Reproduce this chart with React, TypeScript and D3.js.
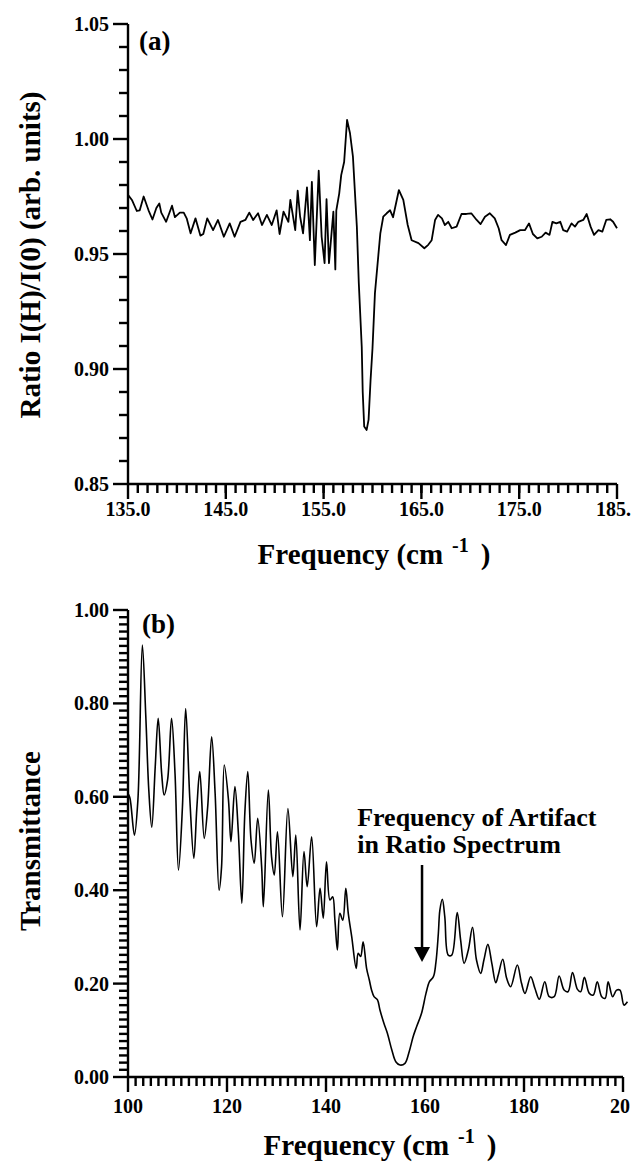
import React from "react";
import * as d3 from "d3";

// ---------- Panel (a): ratio spectrum ----------
const freqA = [
  135.0, 135.4, 135.9, 136.2, 136.6, 137.1, 137.5, 137.9, 138.2, 138.4, 138.9, 139.5, 139.8, 140.3, 140.7,
  141.0, 141.4, 141.9, 142.4, 142.7, 143.1, 143.7, 144.2, 144.8, 145.4, 145.9, 146.5, 147.0, 147.4, 147.8,
  148.3, 148.7, 149.2, 149.7, 150.2, 150.5, 150.9, 151.4, 151.6, 152.1, 152.35, 152.6, 152.9, 153.3, 153.6,
  153.8, 154.1, 154.5, 154.8, 155.1, 155.3, 155.55, 156.0, 156.2, 156.3, 156.6, 156.8, 157.1, 157.4, 157.7,
  158.0, 158.4, 158.6, 158.9, 159.0, 159.15, 159.4, 159.6, 159.8, 160.0, 160.25, 160.8, 161.1, 161.45, 161.8,
  162.1, 162.7, 163.15, 163.6, 164.0, 164.7, 165.3, 165.7, 166.05, 166.4, 166.7, 167.1, 167.4, 167.75, 168.1,
  168.6, 169.1, 169.6, 170.1, 170.65, 171.05, 171.5, 172.0, 172.5, 172.9, 173.2, 173.65, 174.05, 174.6, 175.1,
  175.6, 176.0, 176.4, 176.85, 177.3, 177.7, 178.1, 178.4, 178.8, 179.2, 179.5, 179.9, 180.35, 180.7, 181.05,
  181.55, 181.9, 182.3, 182.65, 183.1, 183.5, 183.9, 184.3, 184.6, 185.0,
];
const ratioA = [
  0.9757, 0.9735, 0.9687, 0.969, 0.975, 0.969, 0.965, 0.97, 0.972, 0.968, 0.964, 0.971, 0.966, 0.968, 0.968,
  0.9655, 0.959, 0.9655, 0.958, 0.9587, 0.9655, 0.9604, 0.9648, 0.9575, 0.9633, 0.9575, 0.964, 0.9648, 0.968, 0.9648,
  0.9677, 0.9626, 0.967, 0.9626, 0.969, 0.9587, 0.9684, 0.964, 0.9735, 0.9604, 0.9775, 0.9662, 0.959, 0.979, 0.956,
  0.9814, 0.9452, 0.9862, 0.9575, 0.946, 0.9738, 0.946, 0.9684, 0.9433, 0.969, 0.9764, 0.9843, 0.99, 1.0083, 1.0025,
  0.9923, 0.9619, 0.9373, 0.9097, 0.89, 0.875, 0.8735, 0.878, 0.895, 0.909, 0.933, 0.959, 0.9662, 0.9677, 0.969,
  0.966, 0.9778, 0.9735, 0.9626, 0.956, 0.9547, 0.9525, 0.954, 0.956, 0.9648, 0.967, 0.9655, 0.9626, 0.964, 0.9612,
  0.9619, 0.9674, 0.9674, 0.9677, 0.9648, 0.963, 0.9662, 0.9677, 0.9655, 0.9612, 0.956, 0.9539, 0.9583, 0.9593, 0.9604,
  0.9604, 0.9633, 0.9587, 0.9568, 0.9575, 0.9593, 0.9583, 0.964, 0.9633, 0.964, 0.9604, 0.9597, 0.9633, 0.9619, 0.964,
  0.9648, 0.9674, 0.9619, 0.9583, 0.9604, 0.9597, 0.9648, 0.9651, 0.964, 0.9612,
];
const yTicksA = [0.85, 0.9, 0.95, 1.0, 1.05];
const yLabelsA = ["0.85", "0.90", "0.95", "1.00", "1.05"];
const xTicksA = [135, 145, 155, 165, 175, 185];
const xLabelsA = ["135.0", "145.0", "155.0", "165.0", "175.0", "185."];

// ---------- Panel (b): transmittance ----------
const freqB = [
  100.0, 100.4, 101.3, 102.0, 102.9, 103.6, 104.2, 104.8, 105.5, 106.1, 106.8, 107.3, 108.0, 108.8, 109.5,
  110.2, 111.0, 111.65, 112.5, 113.3, 113.9, 114.5, 115.4, 116.1, 116.9, 117.6, 118.4, 118.9, 119.45, 120.3,
  120.8, 121.6, 122.3, 123.0, 123.6, 124.2, 124.85, 125.5, 126.2, 127.0, 127.35, 128.35, 129.0, 129.55, 130.2,
  131.2, 132.3, 133.3, 133.9, 134.75, 135.55, 136.2, 137.1, 138.1, 138.8, 139.45, 140.1, 140.8, 141.35, 141.8,
  142.3, 142.8, 143.4, 144.0, 144.5, 145.2, 146.1, 146.5, 147.0, 147.5, 148.2, 148.75, 149.2, 149.7, 150.4,
  150.9, 151.7, 152.4, 153.3, 154.1, 154.95, 155.95, 156.8, 157.6, 158.3, 159.3, 160.2, 160.9, 161.7, 162.2,
  162.7, 163.0, 163.5, 164.0, 164.7, 165.4, 166.5, 167.2, 167.9, 168.75, 169.6, 170.4, 171.25, 171.9, 172.7,
  173.5, 174.3, 174.8, 175.7, 176.5, 177.3, 178.65, 179.5, 180.2, 181.35, 182.2, 183.1, 184.2, 185.1, 186.1,
  187.1, 188.1, 188.9, 189.8, 190.8, 191.45, 192.2, 193.2, 194.0, 194.8, 195.7, 196.4, 197.0, 197.9, 198.7,
  199.4, 200.2, 200.9,
];
const transB = [
  0.6075, 0.597, 0.518, 0.593, 0.925, 0.7715, 0.6146, 0.535, 0.6645, 0.768, 0.65, 0.6039, 0.636, 0.768, 0.65,
  0.443, 0.5788, 0.789, 0.593, 0.4683, 0.575, 0.654, 0.511, 0.5788, 0.7287, 0.6075, 0.4, 0.45, 0.668, 0.593,
  0.504, 0.6217, 0.522, 0.372, 0.5647, 0.654, 0.5075, 0.4576, 0.554, 0.45, 0.3647, 0.6146, 0.4718, 0.4326, 0.525,
  0.343, 0.575, 0.429, 0.518, 0.3148, 0.4825, 0.4076, 0.5146, 0.322, 0.404, 0.3398, 0.461, 0.379, 0.386, 0.336,
  0.272, 0.3505, 0.336, 0.404, 0.3505, 0.3, 0.2327, 0.265, 0.258, 0.2897, 0.2327, 0.2077, 0.1863, 0.172, 0.165,
  0.1435, 0.115, 0.0935, 0.0578, 0.0328, 0.0257, 0.0293, 0.0542, 0.0863, 0.1077, 0.1364, 0.179, 0.204, 0.2148, 0.245,
  0.3077, 0.357, 0.3805, 0.343, 0.261, 0.261, 0.352, 0.293, 0.2434, 0.272, 0.3206, 0.2505, 0.222, 0.2505, 0.284,
  0.2434, 0.202, 0.2184, 0.252, 0.2113, 0.1934, 0.2398, 0.2006, 0.179, 0.2148, 0.19, 0.1664, 0.204, 0.172, 0.172,
  0.2163, 0.1863, 0.1827, 0.2234, 0.1877, 0.1827, 0.2134, 0.179, 0.1756, 0.204, 0.172, 0.1685, 0.204, 0.172, 0.186,
  0.186, 0.154, 0.161,
];
const yTicksB = [0, 0.2, 0.4, 0.6, 0.8, 1.0];
const yLabelsB = ["0.00", "0.20", "0.40", "0.60", "0.80", "1.00"];
const xTicksB = [100, 120, 140, 160, 180, 200];
const xLabelsB = ["100", "120", "140", "160", "180", "20"];

// annotation (frequency of artifact) in data units of panel (b)
const artifactFreq = 159.4;
const artifactFrom = 0.454;
const artifactTo = 0.246;
const noteLines = ["Frequency of Artifact", "in Ratio Spectrum"];
const noteFreq = 146.3;
const noteValue = 0.538;

const FONT = "'Liberation Serif', 'Times New Roman', Times, serif";

const xA = d3.scaleLinear().domain([135, 185]).range([128, 617]);
const yA = d3.scaleLinear().domain([0.85, 1.05]).range([484, 24]);
const xB = d3.scaleLinear().domain([100, 200]).range([128, 623]);
const yB = d3.scaleLinear().domain([0, 1]).range([1077, 610]);

// minor tick values (between majors), built with d3.range over each major interval
const minorXA = d3.range(136, 185, 1);
const minorYA = d3.range(0.86, 1.05, 0.01).filter((v) => Math.abs(v * 20 - Math.round(v * 20)) > 1e-6);
const minorXB = xTicksB.slice(0, -1).flatMap((a) => d3.range(1, 13).map((k) => a + (20 * k) / 13));
const minorYB = yTicksB.slice(0, -1).flatMap((a) => d3.range(1, 13).map((k) => a + (0.2 * k) / 13));

export default function App() {
  const lineA = d3.line<number>().x((_, i) => xA(freqA[i])).y((d) => yA(d)).curve(d3.curveLinear);
  const lineB = d3.line<number>().x((_, i) => xB(freqB[i])).y((d) => yB(d)).curve(d3.curveCatmullRom.alpha(0.5));

  const ax = xB(artifactFreq);
  const aTop = yB(artifactFrom);
  const aTip = yB(artifactTo);

  return (
    <svg width={633} height={1164} style={{ position: "absolute", left: 0, top: 0 }}>
      <rect width={633} height={1164} fill="#fff" />

      {/* Panel (a) axes */}
      <line x1={128} x2={128} y1={485} y2={24} stroke="black" strokeWidth={2.4} />
      <line x1={127} x2={617} y1={484} y2={484} stroke="black" strokeWidth={2.4} />
      {yTicksA.map((t, i) => (
        <line key={"aym" + i} x1={113} x2={128} y1={yA(t)} y2={yA(t)} stroke="black" strokeWidth={2.4} />
      ))}
      {minorYA.map((t, i) => (
        <line key={"ayn" + i} x1={119} x2={128} y1={yA(t)} y2={yA(t)} stroke="black" strokeWidth={2.4} />
      ))}
      {xTicksA.map((t, i) => (
        <line key={"axm" + i} x1={xA(t)} x2={xA(t)} y1={484} y2={499} stroke="black" strokeWidth={2.4} />
      ))}
      {minorXA.map((t, i) => (
        <line key={"axn" + i} x1={xA(t)} x2={xA(t)} y1={484} y2={493} stroke="black" strokeWidth={2.4} />
      ))}
      {yTicksA.map((t, i) => (
        <text key={"ayl" + i} x={109} y={yA(t)} dy="0.35em" textAnchor="end" fontFamily={FONT} fontWeight="bold" fontSize={20}>{yLabelsA[i]}</text>
      ))}
      {xTicksA.map((t, i) => (
        <text key={"axl" + i} x={i === xTicksA.length - 1 ? 631 : xA(t)} y={516} textAnchor={i === xTicksA.length - 1 ? "end" : "middle"}
          fontFamily={FONT} fontWeight="bold" fontSize={20}>{xLabelsA[i]}</text>
      ))}
      <path d={lineA(ratioA) || ""} fill="none" stroke="#000" strokeWidth={1.8} strokeLinejoin="round" />
      <text x={139} y={50} fontFamily={FONT} fontWeight="bold" fontSize={27}>(a)</text>
      <text x={374} y={564} textAnchor="middle" fontFamily={FONT} fontWeight="bold" fontSize={29}>
        Frequency (cm<tspan dx={9} dy={-12} fontSize={20}>-1</tspan><tspan dx={12} dy={12}>)</tspan>
      </text>
      <text transform="translate(40,255) rotate(-90)" textAnchor="middle" fontFamily={FONT} fontWeight="bold" fontSize={29}>
        Ratio I(H)/I(0) (arb. units)
      </text>

      {/* Panel (b) axes */}
      <line x1={128} x2={128} y1={1078} y2={610} stroke="black" strokeWidth={2.4} />
      <line x1={127} x2={623} y1={1077} y2={1077} stroke="black" strokeWidth={2.4} />
      {yTicksB.map((t, i) => (
        <line key={"bym" + i} x1={113} x2={128} y1={yB(t)} y2={yB(t)} stroke="black" strokeWidth={2.4} />
      ))}
      {minorYB.map((t, i) => (
        <line key={"byn" + i} x1={119} x2={128} y1={yB(t)} y2={yB(t)} stroke="black" strokeWidth={2.4} />
      ))}
      {xTicksB.map((t, i) => (
        <line key={"bxm" + i} x1={xB(t)} x2={xB(t)} y1={1077} y2={1092} stroke="black" strokeWidth={2.4} />
      ))}
      {minorXB.map((t, i) => (
        <line key={"bxn" + i} x1={xB(t)} x2={xB(t)} y1={1077} y2={1086} stroke="black" strokeWidth={2.4} />
      ))}
      {yTicksB.map((t, i) => (
        <text key={"byl" + i} x={109} y={yB(t)} dy="0.35em" textAnchor="end" fontFamily={FONT} fontWeight="bold" fontSize={20}>{yLabelsB[i]}</text>
      ))}
      {xTicksB.map((t, i) => (
        <text key={"bxl" + i} x={i === xTicksB.length - 1 ? 630 : xB(t)} y={1113} textAnchor={i === xTicksB.length - 1 ? "end" : "middle"}
          fontFamily={FONT} fontWeight="bold" fontSize={20}>{xLabelsB[i]}</text>
      ))}
      <path d={lineB(transB) || ""} fill="none" stroke="#000" strokeWidth={1.6} strokeLinejoin="round" />
      <text x={142} y={633} fontFamily={FONT} fontWeight="bold" fontSize={27}>(b)</text>
      <text x={380} y={1155} textAnchor="middle" fontFamily={FONT} fontWeight="bold" fontSize={29}>
        Frequency (cm<tspan dx={9} dy={-12} fontSize={20}>-1</tspan><tspan dx={12} dy={12}>)</tspan>
      </text>
      <text transform="translate(40,841) rotate(-90)" textAnchor="middle" fontFamily={FONT} fontWeight="bold" fontSize={29}>
        Transmittance
      </text>
      {noteLines.map((s, i) => (
        <text key={s} x={xB(noteFreq)} y={yB(noteValue) + i * 27} fontFamily={FONT} fontWeight="bold" fontSize={26}>{s}</text>
      ))}
      <line x1={ax} x2={ax} y1={aTop} y2={aTip - 12} stroke="#000" strokeWidth={2.5} />
      <path d={`M${ax - 8},${aTip - 15} L${ax + 8},${aTip - 15} L${ax},${aTip} Z`} fill="#000" />
    </svg>
  );
}
